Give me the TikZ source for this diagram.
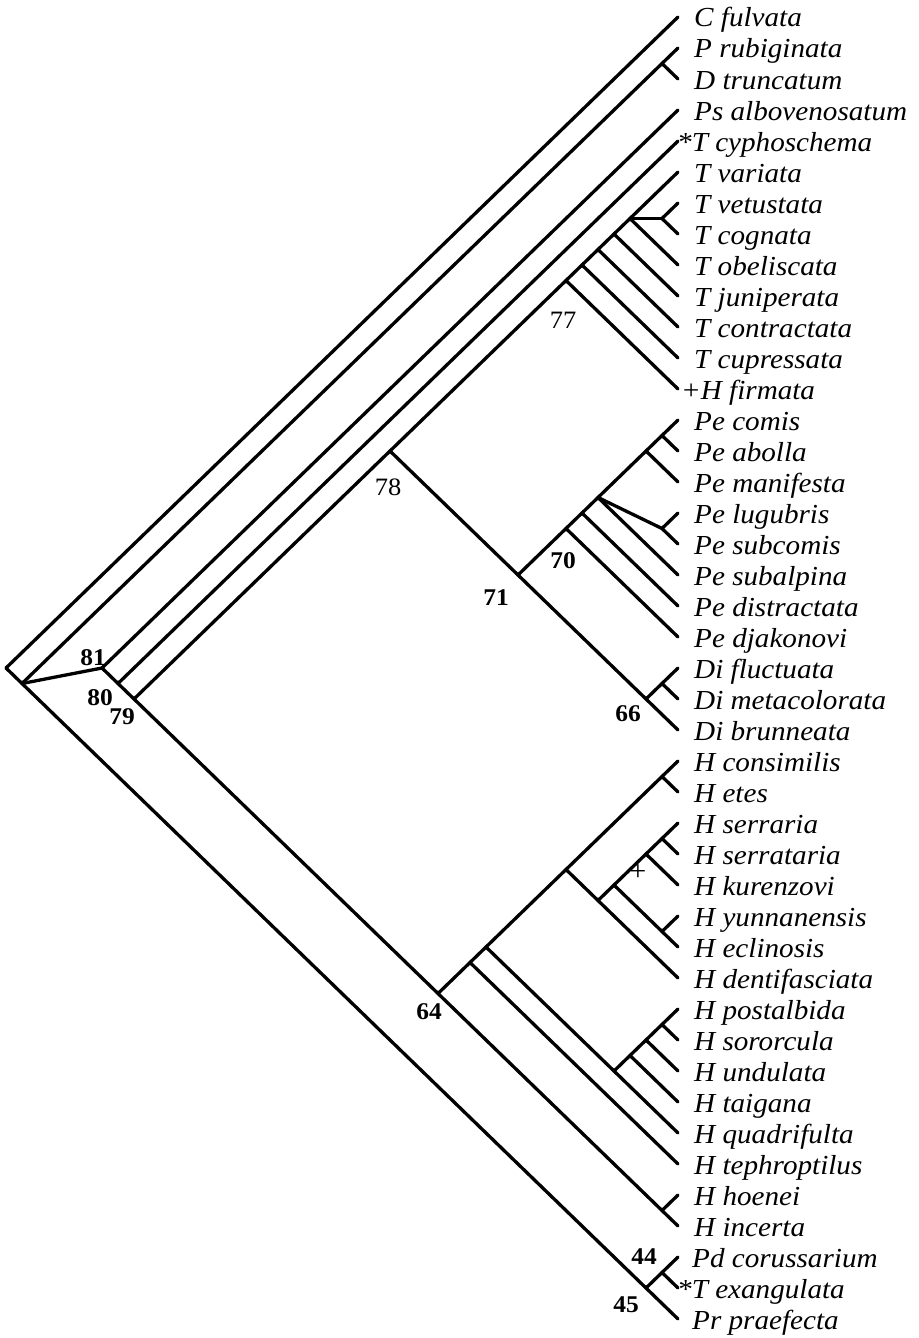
\documentclass[tikz,border=0pt]{standalone}
\usepackage{fontspec}
\setmainfont{Liberation Serif}[FakeStretch=1.06]
\newcommand\mkclade[3]{\coordinate (#1) at ({678-16*(#3-#2)},{17+15.5*(#2+#3)});}
\begin{document}
\begin{tikzpicture}[x=1pt,y=-1pt,
  br/.style={line width=3.3pt, line cap=round, line join=round},
  lab/.style={anchor=base west, inner sep=0pt, font=\fontsize{27.5}{30}\selectfont\itshape},
  num/.style={inner sep=0pt, font=\fontsize{24}{26}\selectfont\bfseries},
  numr/.style={inner sep=0pt, font=\fontsize{25}{27}\selectfont},
  pmark/.style={inner sep=0pt, font=\fontsize{28}{30}\selectfont}]
\useasboundingbox (0,0) rectangle (918,1338);
% leaf tips
\foreach \i in {0,...,42} \coordinate (L\i) at (678,{17+31*\i});
% internal nodes
\mkclade{R}{0}{42}
\mkclade{A}{1}{42}
\mkclade{c1x2}{1}{2}
\mkclade{N81}{3}{39}
\mkclade{Nc}{4}{39}
\mkclade{N79}{5}{39}
\mkclade{N78}{5}{23}
\mkclade{N77}{5}{12}
\mkclade{c5x11}{5}{11}
\mkclade{c5x10}{5}{10}
\mkclade{c5x9}{5}{9}
\mkclade{c5x8}{5}{8}
\mkclade{c6x7}{6}{7}
\mkclade{N71}{13}{23}
\mkclade{N70}{13}{20}
\mkclade{c13x19}{13}{19}
\mkclade{c13x18}{13}{18}
\mkclade{c16x17}{16}{17}
\mkclade{c13x15}{13}{15}
\mkclade{c13x14}{13}{14}
\mkclade{N66}{21}{23}
\mkclade{c21x22}{21}{22}
\mkclade{N64}{24}{39}
\mkclade{c24x37}{24}{37}
\mkclade{c24x36}{24}{36}
\mkclade{c32x36}{32}{36}
\mkclade{c32x35}{32}{35}
\mkclade{c32x34}{32}{34}
\mkclade{c32x33}{32}{33}
\mkclade{c24x31}{24}{31}
\mkclade{c26x31}{26}{31}
\mkclade{c26x30}{26}{30}
\mkclade{c29x30}{29}{30}
\mkclade{c26x28}{26}{28}
\mkclade{c26x27}{26}{27}
\mkclade{c24x25}{24}{25}
\mkclade{c38x39}{38}{39}
\mkclade{N45}{40}{42}
\mkclade{N44}{40}{41}
% branches
\draw[br] (R) -- (L0);
\draw[br] (R) -- (L42);
\draw[br] (A) -- (L1);
\draw[br] (c1x2) -- (L2);
\draw[br] (A) -- (N81);
\draw[br] (N81) -- (L3);
\draw[br] (N81) -- (L39);
\draw[br] (Nc) -- (L4);
\draw[br] (N79) -- (L5);
\draw[br] (N78) -- (L23);
\draw[br] (N77) -- (L12);
\draw[br] (c5x11) -- (L11);
\draw[br] (c5x10) -- (L10);
\draw[br] (c5x9) -- (L9);
\draw[br] (c5x8) -- (L8);
\draw[br] (c5x8) -- (c6x7);
\draw[br] (c6x7) -- (L6);
\draw[br] (c6x7) -- (L7);
\draw[br] (N71) -- (L13);
\draw[br] (N70) -- (L20);
\draw[br] (c13x19) -- (L19);
\draw[br] (c13x18) -- (L18);
\draw[br] (c13x18) -- (c16x17);
\draw[br] (c16x17) -- (L16);
\draw[br] (c16x17) -- (L17);
\draw[br] (c13x15) -- (L15);
\draw[br] (c13x14) -- (L14);
\draw[br] (N66) -- (L21);
\draw[br] (c21x22) -- (L22);
\draw[br] (N64) -- (L24);
\draw[br] (c24x25) -- (L25);
\draw[br] (c24x37) -- (L37);
\draw[br] (c24x36) -- (L36);
\draw[br] (c32x36) -- (L32);
\draw[br] (c32x35) -- (L35);
\draw[br] (c32x34) -- (L34);
\draw[br] (c32x33) -- (L33);
\draw[br] (c24x31) -- (L31);
\draw[br] (c26x31) -- (L26);
\draw[br] (c26x30) -- (L30);
\draw[br] (c29x30) -- (L29);
\draw[br] (c26x28) -- (L28);
\draw[br] (c26x27) -- (L27);
\draw[br] (c38x39) -- (L38);
\draw[br] (N45) -- (L40);
\draw[br] (N44) -- (L41);
% leaf labels
\foreach \i/\x/\t in {0/694/C fulvata, 1/694/P rubiginata, 2/694/D truncatum,
  3/694/Ps albovenosatum, 4/677/*T cyphoschema, 5/694/T variata,
  6/694/T vetustata, 7/694/T cognata, 8/694/T obeliscata, 9/694/T juniperata,
  10/694/T contractata, 11/694/T cupressata, 12/681/+H firmata,
  13/694/Pe comis, 14/694/Pe abolla, 15/694/Pe manifesta, 16/694/Pe lugubris,
  17/694/Pe subcomis, 18/694/Pe subalpina, 19/694/Pe distractata,
  20/694/Pe djakonovi, 21/694/Di fluctuata, 22/694/Di metacolorata,
  23/694/Di brunneata, 24/694/H consimilis, 25/694/H etes, 26/694/H serraria,
  27/694/H serrataria, 28/694/H kurenzovi, 29/694/H yunnanensis,
  30/694/H eclinosis, 31/694/H dentifasciata, 32/694/H postalbida,
  33/694/H sororcula, 34/694/H undulata, 35/694/H taigana,
  36/694/H quadrifulta, 37/694/H tephroptilus, 38/694/H hoenei,
  39/694/H incerta, 40/692/Pd corussarium, 41/677/*T exangulata,
  42/692/Pr praefecta}
  \node[lab] (t\i) at (\x,{27+31*\i}) {\t};
% node numbers
\node[num] (n81) at (93,658) {81};
\node[num] (n80) at (100,698) {80};
\node[num] (n79) at (122,717) {79};
\node[numr] (n78) at (388,487) {78};
\node[numr] (n77) at (563,320) {77};
\node[num] (n70) at (563,561) {70};
\node[num] (n71) at (496,598) {71};
\node[num] (n66) at (628,714) {66};
\node[num] (n64) at (429,1012) {64};
\node[num] (n44) at (644,1257) {44};
\node[num] (n45) at (626,1305) {45};
\node[pmark] (plus) at (638,873) {+};
\end{tikzpicture}
\end{document}
